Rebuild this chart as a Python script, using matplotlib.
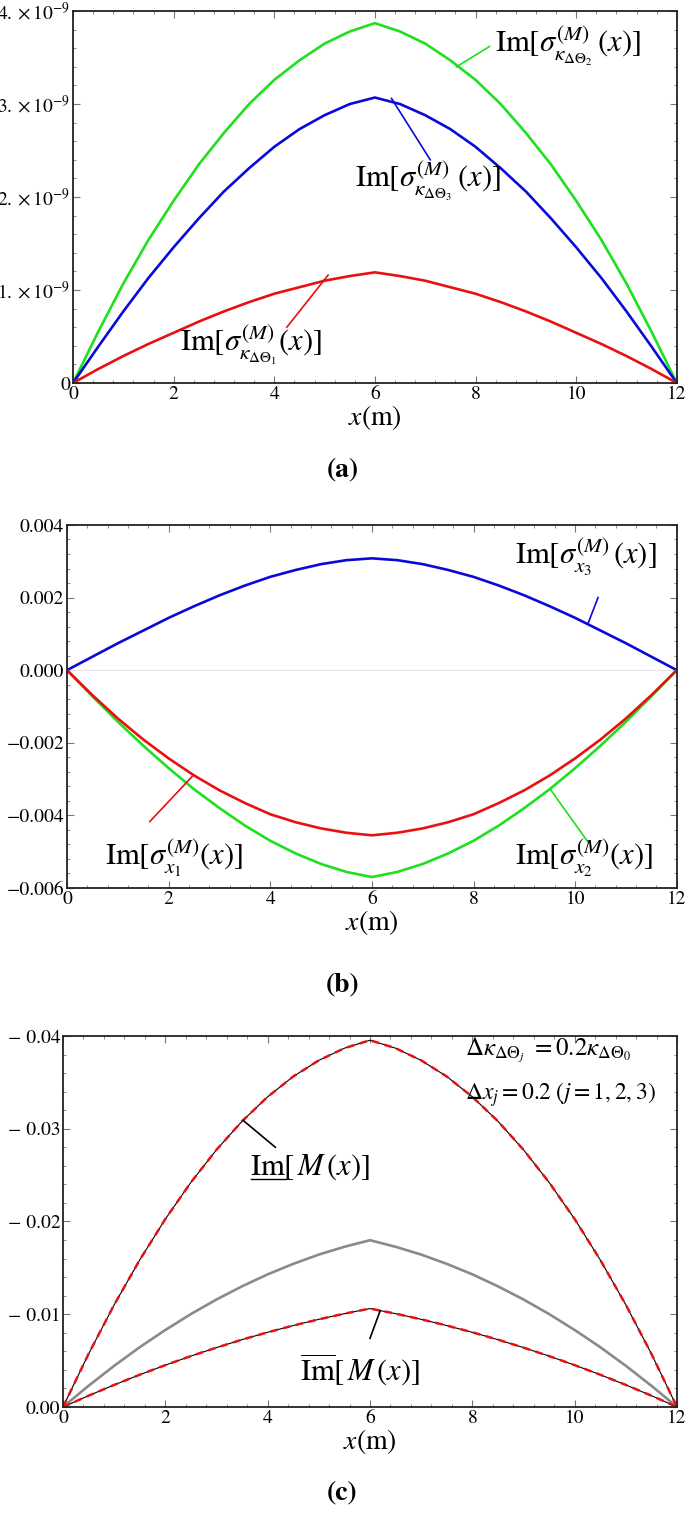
import matplotlib
import numpy as np

matplotlib.use("Agg")
import matplotlib.pyplot as plt
from matplotlib.ticker import AutoMinorLocator

plt.rcParams["font.family"] = "STIXGeneral"
plt.rcParams["mathtext.fontset"] = "stix"

# x positions (m) along the 12 m member
x = [0, 0.5, 1, 1.5, 2, 2.5, 3, 3.5, 4, 4.5, 5, 5.5, 6,
     6.5, 7, 7.5, 8, 8.5, 9, 9.5, 10, 10.5, 11, 11.5, 12]

# (a) Im[sigma_kappa] in units of 1e-9
sig_k1 = [0, 0.15, 0.29, 0.42, 0.54, 0.66, 0.77, 0.87, 0.96, 1.03, 1.10, 1.15, 1.19,
          1.15, 1.10, 1.03, 0.96, 0.87, 0.77, 0.66, 0.54, 0.42, 0.29, 0.15, 0]
sig_k2 = [0, 0.55, 1.07, 1.54, 1.96, 2.35, 2.69, 3.00, 3.26, 3.47, 3.65, 3.78, 3.87,
          3.78, 3.65, 3.47, 3.26, 3.00, 2.69, 2.35, 1.96, 1.54, 1.07, 0.55, 0]
sig_k3 = [0, 0.39, 0.77, 1.13, 1.46, 1.77, 2.06, 2.31, 2.54, 2.73, 2.88, 3.00, 3.07,
          3.00, 2.88, 2.73, 2.54, 2.31, 2.06, 1.77, 1.46, 1.13, 0.77, 0.39, 0]

# (b) Im[sigma_x] in units of 1e-3
sig_x1 = [0, -0.69, -1.33, -1.91, -2.43, -2.90, -3.31, -3.66, -3.97, -4.19, -4.36, -4.48, -4.55,
          -4.48, -4.36, -4.19, -3.97, -3.66, -3.31, -2.90, -2.43, -1.91, -1.33, -0.69, 0]
sig_x2 = [0, -0.72, -1.42, -2.08, -2.70, -3.28, -3.80, -4.28, -4.70, -5.05, -5.34, -5.56, -5.70,
          -5.56, -5.34, -5.05, -4.70, -4.28, -3.80, -3.28, -2.70, -2.08, -1.42, -0.72, 0]
sig_x3 = [0, 0.37, 0.74, 1.09, 1.44, 1.76, 2.06, 2.33, 2.57, 2.76, 2.92, 3.03, 3.08,
          3.03, 2.92, 2.76, 2.57, 2.33, 2.06, 1.76, 1.44, 1.09, 0.74, 0.37, 0]

# (c) Im[M(x)] magnitude in units of 1e-3
m_lower = [0, 5.73, 11.02, 15.86, 20.26, 24.22, 27.73, 30.81, 33.44, 35.63, 37.37, 38.68, 39.54,
           38.68, 37.37, 35.63, 33.44, 30.81, 27.73, 24.22, 20.26, 15.86, 11.02, 5.73, 0]
m_mid = [0, 2.29, 4.44, 6.45, 8.30, 10.02, 11.59, 13.01, 14.30, 15.43, 16.43, 17.27, 17.98,
         17.27, 16.43, 15.43, 14.30, 13.01, 11.59, 10.02, 8.30, 6.45, 4.44, 2.29, 0]
m_upper = [0, 1.22, 2.38, 3.48, 4.51, 5.49, 6.40, 7.26, 8.05, 8.78, 9.45, 10.06, 10.61,
           10.06, 9.45, 8.78, 8.05, 7.26, 6.40, 5.49, 4.51, 3.48, 2.38, 1.22, 0]

x_ticks = [0, 2, 4, 6, 8, 10, 12]
a_yticks = [0, 1e-9, 2e-9, 3e-9, 4e-9]
a_ylabels = ["0", r"$1.\times10^{-9}$", r"$2.\times10^{-9}$", r"$3.\times10^{-9}$", r"$4.\times10^{-9}$"]
b_yticks = [-0.006, -0.004, -0.002, 0.0, 0.002, 0.004]
b_ylabels = ["\u22120.006", "\u22120.004", "\u22120.002", "0.000", "0.002", "0.004"]
c_yticks = [0, 0.01, 0.02, 0.03, 0.04]
c_ylabels = ["0.00", "\u2212 0.01", "\u2212 0.02", "\u2212 0.03", "\u2212 0.04"]

GREEN = "#1fe01f"
BLUE = "#0a0ad8"
RED = "#e81010"
GRAY = "#8a8a8a"
LW = 1.9
LBL = 22

fig = plt.figure(figsize=(6.85, 15.15), dpi=100)


def style_axes(ax):
    for s in ax.spines.values():
        s.set_linewidth(1.3)
        s.set_color("#222222")
    ax.set_xlim(0, 12)
    ax.set_xticks(x_ticks)
    ax.xaxis.set_minor_locator(AutoMinorLocator(5))
    ax.yaxis.set_minor_locator(AutoMinorLocator(5))
    ax.tick_params(which="both", direction="in", top=True, right=True,
                   labeltop=False, labelright=False, color="#777777")
    ax.tick_params(which="major", length=5, width=0.8, labelsize=14, pad=2)
    ax.tick_params(which="minor", length=2.5, width=0.6)
    ax.set_xlabel(r"$x$(m)", fontsize=20, labelpad=0)


def leader(ax, p0, p1, color):
    ax.plot([p0[0], p1[0]], [p0[1], p1[1]], color=color, lw=1.2, clip_on=False)


# ---------- (a)
ax = fig.add_axes([0.1066, 0.7472, 0.8814, 0.2455])
xa = np.array(x)
ax.plot(xa, np.array(sig_k2) * 1e-9, color=GREEN, lw=LW)
ax.plot(xa, np.array(sig_k3) * 1e-9, color=BLUE, lw=LW)
ax.plot(xa, np.array(sig_k1) * 1e-9, color=RED, lw=LW)
ax.set_ylim(0, 4e-9)
style_axes(ax)
ax.set_yticks(a_yticks)
ax.set_yticklabels(a_ylabels)
leader(ax, (7.62, 3.40e-9), (8.28, 3.62e-9), GREEN)
ax.text(8.38, 3.62e-9, r"$\mathrm{Im}[\sigma^{(M)}_{\kappa_{\Delta\Theta_2}}\,(x)]$",
        fontsize=LBL, va="center", ha="left")
leader(ax, (6.33, 3.06e-9), (7.1, 2.40e-9), BLUE)
ax.text(5.6, 2.17e-9, r"$\mathrm{Im}[\sigma^{(M)}_{\kappa_{\Delta\Theta_3}}\,(x)]$",
        fontsize=LBL, va="center", ha="left")
leader(ax, (5.07, 1.16e-9), (4.25, 0.60e-9), RED)
ax.text(2.13, 0.41e-9, r"$\mathrm{Im}[\sigma^{(M)}_{\kappa_{\Delta\Theta_1}}(x)]$",
        fontsize=LBL, va="center", ha="left")
fig.text(0.5, 1 - 470 / 1515, "(a)", fontsize=20, fontweight="bold", ha="center", va="center")

# ---------- (b)
ax = fig.add_axes([0.0978, 0.4139, 0.8902, 0.2396])
ax.axhline(0, color="#e4e4e4", lw=0.8)
ax.plot(xa, np.array(sig_x3) * 1e-3, color=BLUE, lw=LW)
ax.plot(xa, np.array(sig_x2) * 1e-3, color=GREEN, lw=LW)
ax.plot(xa, np.array(sig_x1) * 1e-3, color=RED, lw=LW)
ax.set_ylim(-0.006, 0.004)
style_axes(ax)
ax.set_yticks(b_yticks)
ax.set_yticklabels(b_ylabels)
leader(ax, (10.25, 1.27e-3), (10.45, 2.0e-3), BLUE)
ax.text(8.81, 3.1e-3, r"$\mathrm{Im}[\sigma^{(M)}_{x_3}\,(x)]$",
        fontsize=LBL, va="center", ha="left")
leader(ax, (2.49, -2.89e-3), (1.63, -4.17e-3), RED)
ax.text(0.75, -5.18e-3, r"$\mathrm{Im}[\sigma^{(M)}_{x_1}(x)]$",
        fontsize=LBL, va="center", ha="left")
leader(ax, (9.52, -3.30e-3), (10.26, -4.75e-3), GREEN)
ax.text(8.81, -5.18e-3, r"$\mathrm{Im}[\sigma^{(M)}_{x_2}(x)]$",
        fontsize=LBL, va="center", ha="left")
fig.text(0.5, 1 - 985 / 1515, "(b)", fontsize=20, fontweight="bold", ha="center", va="center")

# ---------- (c)
ax = fig.add_axes([0.0920, 0.0713, 0.8963, 0.2449])
ax.plot(xa, np.array(m_mid) * 1e-3, color=GRAY, lw=LW)
for vals in (m_lower, m_upper):
    ax.plot(xa, np.array(vals) * 1e-3, color="black", lw=0.8)
    ax.plot(xa, np.array(vals) * 1e-3, color=RED, lw=1.8, dashes=(3, 2.2))
ax.set_ylim(0, 0.04)
style_axes(ax)
ax.set_yticks(c_yticks)
ax.set_yticklabels(c_ylabels)
ax.text(7.85, 0.0384, r"$\Delta\kappa_{\Delta\Theta_j}\ =0.2\kappa_{\Delta\Theta_0}$",
        fontsize=18, va="center", ha="left")
ax.text(7.85, 0.0337, r"$\Delta x_j=0.2\;(j=1,2,3)$",
        fontsize=17, va="center", ha="left")
leader(ax, (3.52, 0.0309), (4.15, 0.0280), "black")
t_im = ax.text(3.65, 0.0259, r"$\mathrm{Im}[\,M\,(x)]$", fontsize=LBL, va="center", ha="left")
leader(ax, (6.2, 0.0104), (6.0, 0.0074), "black")
ax.text(4.63, 0.0040, r"$\overline{\mathrm{Im}}[\,M\,(x)]$", fontsize=LBL, va="center", ha="left")

# underline under "Im" of the lower-bound label
fig.canvas.draw()
r = fig.canvas.get_renderer()
bb = t_im.get_window_extent(r)
probe = ax.text(0, 0, r"$\mathrm{Im}$", fontsize=LBL)
w_im = probe.get_window_extent(r).width
probe.remove()
inv = fig.transFigure.inverted()
(x0, y0) = inv.transform((bb.x0 + 1, bb.y0 + 3))
(x1, _) = inv.transform((bb.x0 + w_im, bb.y0 + 3))
fig.add_artist(plt.Line2D([x0, x1], [y0, y0], color="black", lw=1.0, transform=fig.transFigure))

fig.text(0.5, 1 - 1493 / 1515, "(c)", fontsize=20, fontweight="bold", ha="center", va="center")

fig.savefig("out.png", dpi=100)
